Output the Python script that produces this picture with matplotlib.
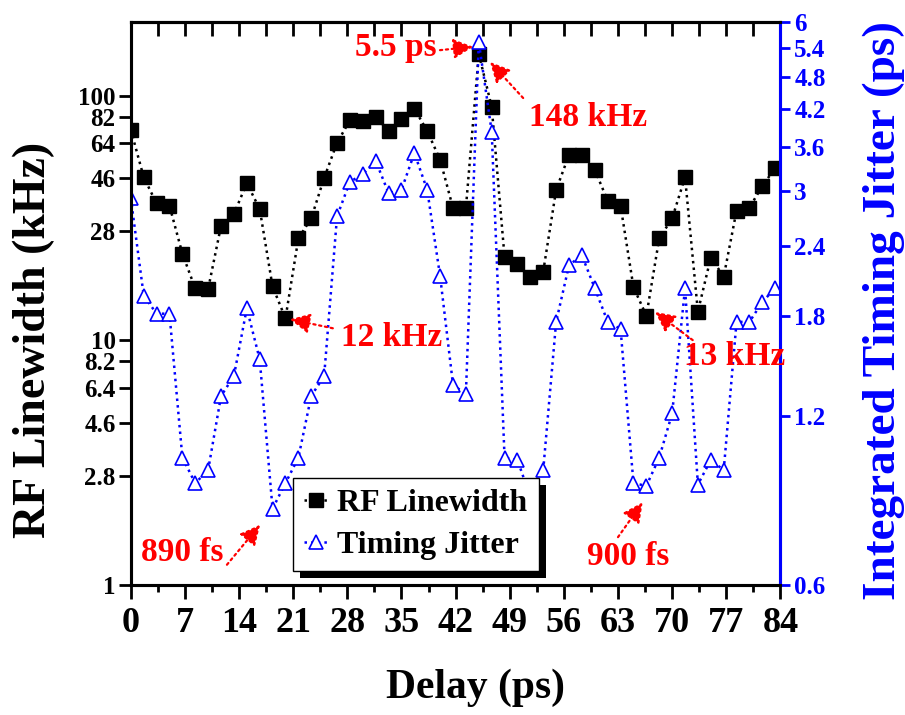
import matplotlib
matplotlib.use('Agg')
import matplotlib.pyplot as plt
from matplotlib.ticker import FixedLocator, NullLocator, MultipleLocator, NullFormatter
from matplotlib.patches import Rectangle
from matplotlib.transforms import IdentityTransform

plt.rcParams['font.family'] = ['Liberation Serif', 'DejaVu Serif']
plt.rcParams['font.weight'] = 'bold'
plt.rcParams['axes.labelweight'] = 'bold'

# ---------------- data ----------------
delay = [0, 1.67, 3.33, 5, 6.67, 8.33, 10, 11.67, 13.33, 15, 16.67, 18.33, 20,
         21.67, 23.33, 25, 26.67, 28.33, 30, 31.67, 33.33, 35, 36.67, 38.33, 40,
         41.67, 43.33, 45, 46.67, 48.33, 50, 51.67, 53.33, 55, 56.67, 58.33, 60,
         61.67, 63.33, 65, 66.67, 68.33, 70, 71.67, 73.33, 75, 76.67, 78.33, 80,
         81.67, 83.33]

rf_linewidth = [72.6, 46.4, 36.3, 35.5, 22.6, 16.3, 16.2, 29.4, 32.8, 43.9, 34.4,
                16.6, 12.3, 26.1, 31.5, 46.1, 64.2, 79.2, 78.5, 81.8, 71.7, 80.5,
                88.5, 71.7, 54.7, 34.7, 34.7, 148, 89.9, 21.9, 20.6, 18.2, 19.1,
                41.2, 57.3, 57.3, 49.7, 37.2, 35.5, 16.5, 12.6, 26.1, 31.5, 46.4,
                13.1, 21.8, 18.2, 33.9, 34.9, 42.7, 50.7]

timing_jitter = [2.92, 1.96, 1.82, 1.82, 1.01, 0.91, 0.96, 1.30, 1.41, 1.86, 1.51,
                 0.82, 0.91, 1.01, 1.30, 1.41, 2.71, 3.12, 3.22, 3.40, 2.98, 3.02,
                 3.51, 3.02, 2.12, 1.36, 1.31, 5.53, 3.83, 1.01, 1.00, 0.86, 0.96,
                 1.76, 2.22, 2.31, 2.02, 1.76, 1.71, 0.91, 0.90, 1.01, 1.21, 2.02,
                 0.905, 1.00, 0.96, 1.76, 1.76, 1.91, 2.02]

left_ticks = [1, 2.8, 4.6, 6.4, 8.2, 10, 28, 46, 64, 82, 100]
left_tick_labels = ['1', '2.8', '4.6', '6.4', '8.2', '10', '28', '46', '64', '82', '100']
right_ticks = [0.6, 1.2, 1.8, 2.4, 3, 3.6, 4.2, 4.8, 5.4, 6]
right_tick_labels = ['0.6', '1.2', '1.8', '2.4', '3', '3.6', '4.2', '4.8', '5.4', '6']

# ---------------- figure ----------------
fig = plt.figure(figsize=(9.05, 7.15), dpi=100)
ax = fig.add_axes([0.14453, 0.18182, 0.71779, 0.78741])
ax2 = ax.twinx()

ax.plot(delay, rf_linewidth, ls=':', color='black', lw=1.8, marker='s', ms=9.5,
        mfc='black', mec='black', label='RF Linewidth')
ax2.plot(delay, timing_jitter, ls=':', color='blue', lw=1.8, marker='^', ms=10.5,
         mfc='white', mec='blue', mew=1.2, label='Timing Jitter')

ax.set_xlim(0, 84)
ax.set_yscale('log')
ax.set_ylim(1, 200)
ax2.set_yscale('log')
ax2.set_ylim(0.6, 6)

# x ticks
ax.xaxis.set_major_locator(MultipleLocator(7))
ax.xaxis.set_minor_locator(MultipleLocator(3.5))
ax.tick_params(axis='x', which='major', direction='out', length=10, width=2,
               labelsize=26, pad=6)
ax.tick_params(axis='x', which='minor', direction='out', length=5, width=2)

top = ax.secondary_xaxis('top')
top.xaxis.set_major_locator(MultipleLocator(3.5))
top.xaxis.set_minor_locator(NullLocator())
top.xaxis.set_major_formatter(NullFormatter())
top.tick_params(direction='in', length=10, width=2)
top.spines['top'].set_linewidth(2.2)

# left y ticks
ax.yaxis.set_major_locator(FixedLocator(left_ticks))
ax.yaxis.set_minor_locator(NullLocator())
ax.set_yticklabels(left_tick_labels)
ax.tick_params(axis='y', which='major', direction='out', length=9, width=2,
               labelsize=18, pad=2)

# right y ticks
ax2.yaxis.set_major_locator(FixedLocator(right_ticks))
ax2.yaxis.set_minor_locator(NullLocator())
ax2.set_yticklabels(right_tick_labels)
ax2.tick_params(axis='y', which='major', direction='out', length=7, width=2,
                labelsize=18, pad=3, colors='blue')

for a in (ax, ax2):
    for s in a.spines.values():
        s.set_linewidth(2.2)
ax2.spines['right'].set_color('blue')

# axis labels
fig.text(34 / 905, 1 - 340 / 715, 'RF Linewidth (kHz)', rotation=90,
         ha='center', va='center', fontsize=33, fontweight='bold')
fig.text(884 / 905, 1 - 311 / 715, 'Integrated Timing Jitter (ps)', rotation=90,
         ha='center', va='center', fontsize=34, fontweight='bold', color='blue')
fig.text(475 / 905, 1 - 688 / 715, 'Delay (ps)', ha='center', va='center',
         fontsize=30, fontweight='bold')

# annotations
arrow = dict(arrowstyle='-|>,head_length=0.8,head_width=0.4', color='red',
             lw=1.6, linestyle=':', mutation_scale=15, shrinkA=0, shrinkB=0)
annos = [
    ('5.5 ps', (0.408, 0.954), (0.476, 0.950), (0.527, 0.956)),
    ('148 kHz', (0.704, 0.831), (0.604, 0.865), (0.553, 0.929)),
    ('12 kHz', (0.402, 0.439), (0.311, 0.456), (0.245, 0.472)),
    ('13 kHz', (0.930, 0.405), (0.865, 0.435), (0.807, 0.485)),
    ('890 fs', (0.079, 0.057), (0.148, 0.036), (0.199, 0.107)),
    ('900 fs', (0.766, 0.050), (0.750, 0.085), (0.788, 0.147)),
]
for txt, tpos, tail, head in annos:
    ax2.text(tpos[0], tpos[1], txt, transform=ax2.transAxes, color='red',
             fontsize=24, fontweight='bold', ha='center', va='center', zorder=6)
    ax2.annotate('', xy=head, xycoords='axes fraction', xytext=tail,
                 textcoords='axes fraction', arrowprops=arrow, zorder=6)

# legend
h1, l1 = ax.get_legend_handles_labels()
h2, l2 = ax2.get_legend_handles_labels()
leg = ax2.legend(h1 + h2, l1 + l2, loc='lower left', bbox_to_anchor=(0.249, 0.024),
                 bbox_transform=ax2.transAxes, borderaxespad=0, fancybox=False,
                 frameon=True, edgecolor='black', framealpha=1, handlelength=0.75,
                 handletextpad=0.3, borderpad=0.35, labelspacing=0.4, numpoints=1,
                 prop={'size': 23, 'weight': 'bold'})
leg.get_frame().set_linewidth(1.0)
leg.set_zorder(10)

fig.canvas.draw()
bb = leg.get_window_extent()
shadow = Rectangle((bb.x0 + 7, bb.y0 - 7), bb.width, bb.height,
                   transform=IdentityTransform(), facecolor='black',
                   edgecolor='none', zorder=9.9, clip_on=False)
ax2.add_artist(shadow)

fig.savefig('out.png', dpi=100)
